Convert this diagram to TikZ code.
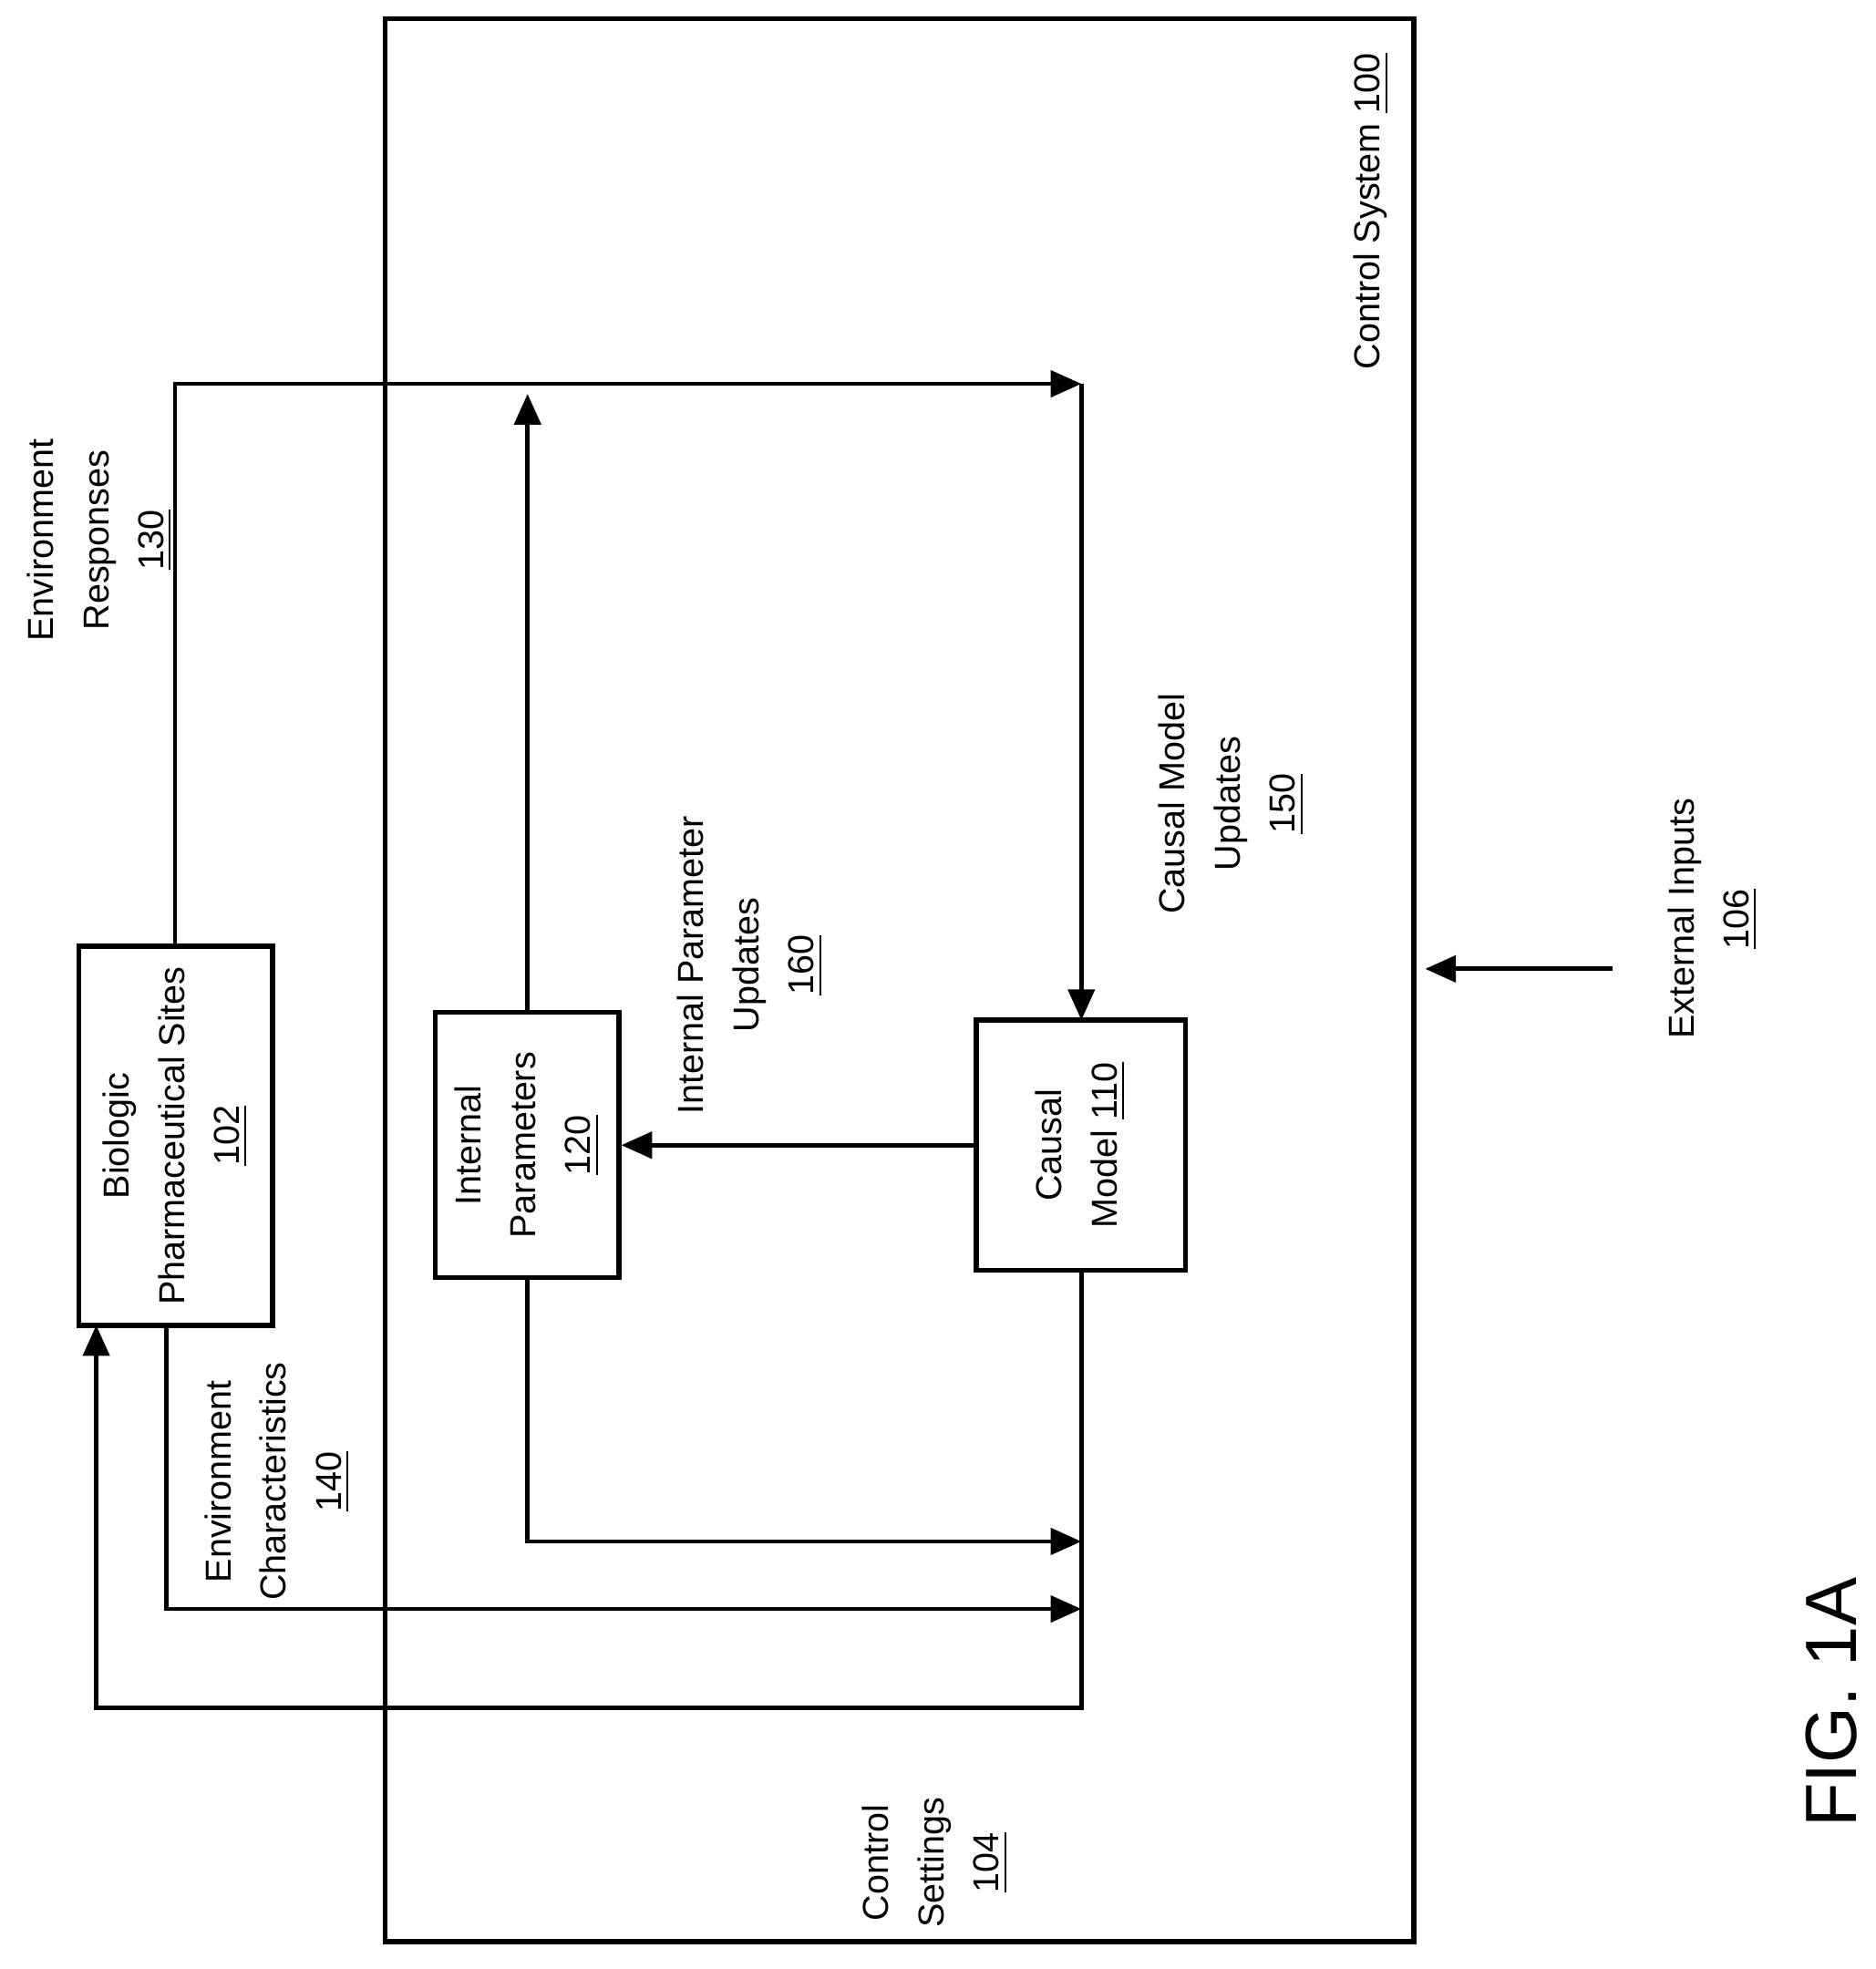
\documentclass[tikz,border=0pt]{standalone}
\usepackage{fontspec}
\setmainfont{Liberation Sans}
\usetikzlibrary{arrows.meta}
\begin{document}
\begin{tikzpicture}[x=0.01cm,y=-0.01cm,
  box/.style={draw,line width=1.1pt,inner sep=0,rotate=90,align=center,font=\fontsize{8.2}{12.5}\selectfont},
  lbl/.style={rotate=90,align=center,font=\fontsize{8.2}{12.5}\selectfont},
  conn/.style={line width=1pt,-{Triangle[length=7pt,width=6pt]}}]
\useasboundingbox (0,0) rectangle (1500,1575);
\draw[line width=1.1pt] (308,15) rectangle (1131,1553);
\node[lbl,anchor=east] (cs) at (1097,30) {Control System \underline{100}};
\node[box,minimum width=3.03cm,minimum height=1.55cm] (bio) at (140.5,908.5) {Biologic\\Pharmaceutical Sites\\\underline{102}};
\node[box,minimum width=2.12cm,minimum height=1.47cm] (ip) at (421.5,916) {Internal\\Parameters\\\underline{120}};
\node[box,minimum width=2.0cm,minimum height=1.67cm] (cm) at (864.5,916) {Causal\\Model \underline{110}};
\coordinate (bioT) at (140,757); \coordinate (bioB) at (133,1060); \coordinate (bioB2) at (77,1060);
\coordinate (ipT) at (422,810); \coordinate (ipB) at (422,1022);
\coordinate (cmT) at (865,816); \coordinate (cmB) at (865,1016);
\coordinate (vA) at (865,307); \coordinate (vB) at (865,1233); \coordinate (vC) at (865,1287);
\coordinate (ipU) at (422,315);
\draw[conn] (bioT) |- (vA);
\draw[conn] (vA) -- (cmT);
\draw[conn] (ipT) -- (ipU);
\draw[conn] (cm.north) -- (ip.south);
\draw[conn] (ipB) |- (vB);
\draw[conn] (bioB) |- (vC);
\draw[conn] (cmB) -- (865,1366) -| (bioB2);
\coordinate (ext) at (1290,775); \coordinate (extE) at (1140,775);
\draw[conn] (ext) -- (extE);
\node[lbl] at (80,432) {Environment\\Responses\\\underline{130}};
\node[lbl] at (985,643) {Causal Model\\Updates\\\underline{150}};
\node[lbl] at (600,772) {Internal Parameter\\Updates\\\underline{160}};
\node[lbl] at (222,1185) {Environment\\Characteristics\\\underline{140}};
\node[lbl] at (748,1490) {Control\\Settings\\\underline{104}};
\node[lbl] at (1370,735) {External Inputs\\\underline{106}};
\node[rotate=90,font=\fontsize{16.5}{20}\selectfont] at (1465,1362) {FIG. 1A};
\end{tikzpicture}
\end{document}
